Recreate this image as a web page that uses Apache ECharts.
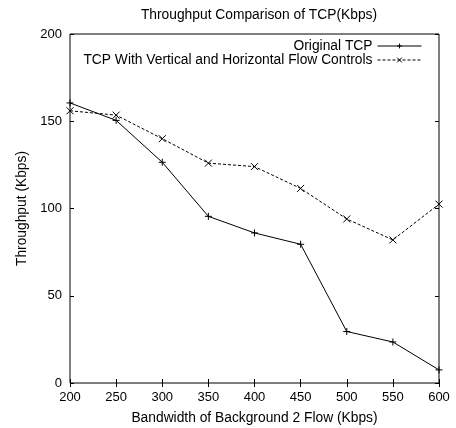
<!DOCTYPE html>
<html>
<head>
<meta charset="utf-8">
<script src="https://cdn.jsdelivr.net/npm/echarts@6/dist/echarts.min.js"></script>
<style>
  html, body { margin: 0; padding: 0; background: #fff; }
  #chart { width: 456px; height: 428px; }
</style>
</head>
<body>
<div id="chart"></div>
<script>
// bandwidth of background flow 2 (Kbps)
var bandwidth = [200, 250, 300, 350, 400, 450, 500, 550, 600];
// throughput of each variant (Kbps)
var originalTcp = [160.5, 150.5, 126.5, 95.5, 86, 79.5, 29.5, 23.5, 7.5];
var flowControlTcp = [156, 153.5, 140, 126, 124, 111.5, 94, 82, 102.5];
var seriesNames = ['Original TCP', 'TCP With Vertical and Horizontal Flow Controls'];

var font = 'Liberation Sans, Arial, sans-serif';
var textSize = 13.8;
var plusSymbol = 'path://M0,-5 L0,5 M-5,0 L5,0';
var crossSymbol = 'path://M-5,-5 L5,5 M-5,5 L5,-5';

function pairs(ys) {
  return bandwidth.map(function (x, i) { return [x, ys[i]]; });
}

var chart = echarts.init(document.getElementById('chart'));

// shared look of the four framed axes
function axisBase(extra) {
  var a = {
    type: 'value',
    axisLine: { show: false },
    axisTick: { show: true, inside: true, length: 4, lineStyle: { color: '#000', width: 1 } },
    splitLine: { show: false },
    axisLabel: { show: false }
  };
  for (var k in extra) a[k] = extra[k];
  return a;
}

function legendFor(name, top, dash) {
  return {
    data: [name],
    orient: 'vertical', align: 'right', right: 34, top: top,
    padding: 0,
    itemWidth: 44, itemHeight: 6,
    lineStyle: { width: 1, type: dash },
    itemStyle: { borderWidth: 1 },
    textStyle: { fontFamily: font, fontSize: textSize, color: '#000' }
  };
}

var option = {
  animation: false,
  backgroundColor: '#fff',
  textStyle: { fontFamily: font },
  title: {
    text: 'Throughput Comparison of TCP(Kbps)',
    left: 254,
    textAlign: 'center',
    top: 3,
    textStyle: { fontFamily: font, fontSize: textSize, fontWeight: 'normal', color: '#000' }
  },
  grid: {
    left: 70, right: 17, top: 34, bottom: 45,
    outerBoundsMode: 'none',
    containLabel: false,
    show: true, borderColor: '#000', borderWidth: 1, backgroundColor: 'transparent'
  },
  legend: [
    legendFor(seriesNames[0], 39, 'solid'),
    legendFor(seriesNames[1], 53, [3, 2])
  ],
  xAxis: [
    axisBase({
      min: 200, max: 600, interval: 50,
      name: 'Bandwidth of Background 2 Flow (Kbps)',
      nameLocation: 'middle', nameGap: 28,
      nameTextStyle: { fontFamily: font, fontSize: textSize, color: '#000' },
      axisLabel: { show: true, margin: 8, fontFamily: font, fontSize: 13, color: '#000' }
    }),
    axisBase({ min: 200, max: 600, interval: 50, position: 'top' })
  ],
  yAxis: [
    axisBase({
      min: 0, max: 200, interval: 50,
      name: 'Throughput (Kbps)',
      nameLocation: 'middle', nameGap: 40,
      nameTextStyle: { fontFamily: font, fontSize: textSize, color: '#000' },
      axisLabel: { show: true, margin: 8, fontFamily: font, fontSize: 13, color: '#000' }
    }),
    axisBase({ min: 0, max: 200, interval: 50, position: 'right' })
  ],
  series: [
    {
      name: seriesNames[0],
      type: 'line',
      data: pairs(originalTcp),
      symbol: plusSymbol,
      symbolSize: 7,
      itemStyle: { color: '#000', borderColor: '#000', borderWidth: 1 },
      lineStyle: { color: '#000', width: 1, type: 'solid' }
    },
    {
      name: seriesNames[1],
      type: 'line',
      data: pairs(flowControlTcp),
      symbol: crossSymbol,
      symbolSize: 7,
      itemStyle: { color: '#000', borderColor: '#000', borderWidth: 1 },
      lineStyle: { color: '#000', width: 1, type: [3, 2] }
    }
  ]
};

chart.setOption(option);
</script>
</body>
</html>
